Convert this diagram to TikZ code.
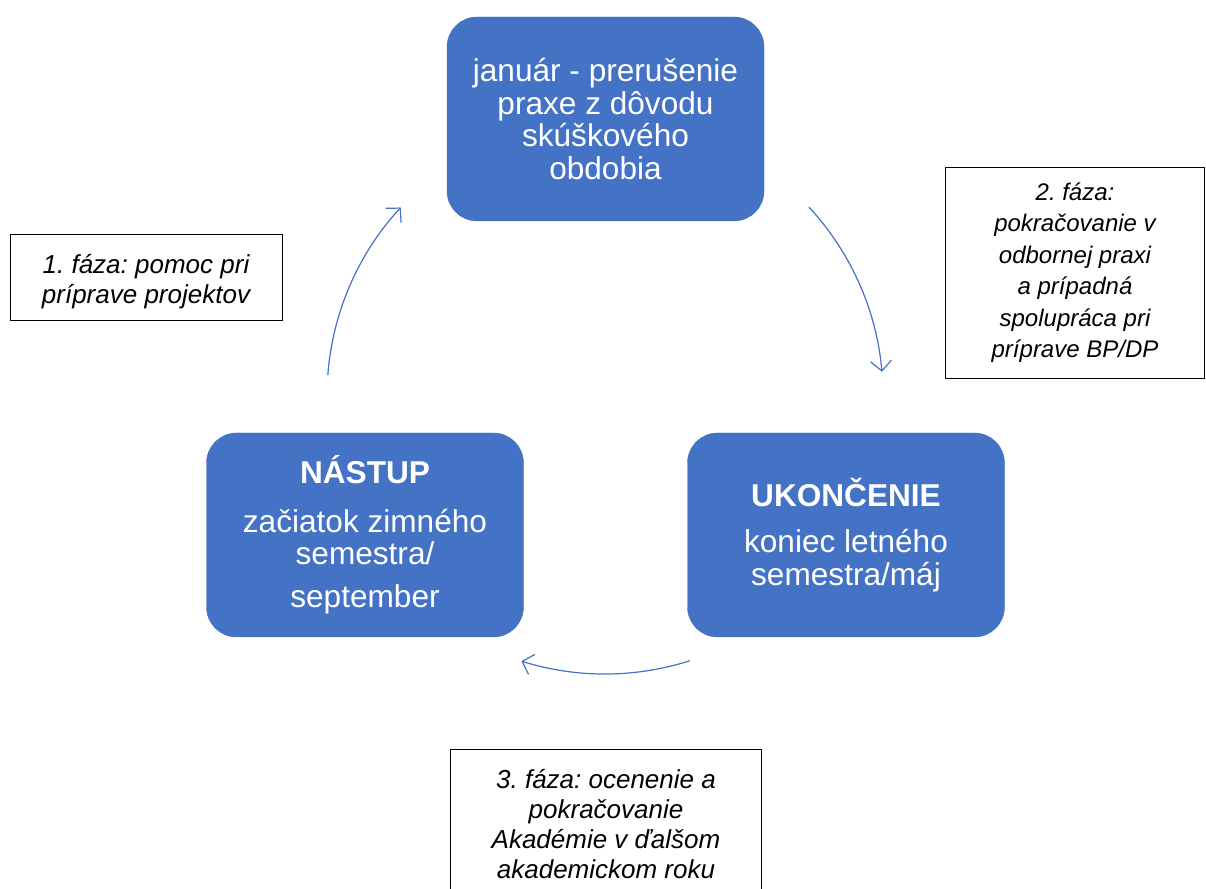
\documentclass[tikz,border=0pt]{standalone}
\usepackage{fontspec}
\setmainfont{Liberation Sans}
\usetikzlibrary{arrows.meta}
\definecolor{cycleblue}{HTML}{4472C4}
\frenchspacing
\tikzset{
	stage/.style={draw=cycleblue, fill=cycleblue, text=white, rounded corners=30pt, minimum width=317pt, minimum height=204pt, inner sep=0pt, align=center, font=\fontsize{31.6}{32.5}\selectfont},
	phase/.style={draw=black, line width=0.9pt, inner sep=0pt, align=center, font=\fontsize{26}{30}\selectfont\itshape},
	cyclearrow/.style={cycleblue, line width=1.2pt, -{Straight Barb[length=10pt,width=21pt]}}
}

\begin{document}
\begin{tikzpicture}[x=1pt,y=1pt]
		\clip (0,0) rectangle (1206,888);
		\coordinate (m) at (605,492);
		\node[stage] (januar) at (605.5,769) {január - prerušenie\\praxe z dôvodu\\skúškového\\obdobia};
		\node[stage] (nastup) at (365,353) {\textbf{NÁSTUP}\\[16pt]začiatok zimného\\semestra/\\[10pt]september};
		\node[stage] (ukoncenie) at (846,353) {\textbf{UKONČENIE}\\[14pt]koniec letného\\semestra/máj};
		\node[phase, minimum width=272pt, minimum height=86pt] (faza1) at (146,611) {\rule{0pt}{28pt}1. fáza: pomoc pri\\príprave projektov};
		\node[phase, minimum width=259pt, minimum height=211pt, font=\fontsize{24}{31.5}\selectfont\itshape] (faza2) at (1075,615.5) {2. fáza:\\pokračovanie v\\odbornej praxi\\a prípadná\\spolupráca pri\\príprave BP/DP};
		\node[phase, minimum width=311pt, minimum height=150pt] (faza3) at (606,64) {3. fáza: ocenenie a\\pokračovanie\\Akadémie v ďalšom\\akademickom roku};
		\draw[cyclearrow] ([shift={(175.7:278)}]m) arc[start angle=175.7, end angle=137.3, radius=278];
		\draw[cyclearrow] ([shift={(42.8:278)}]m) arc[start angle=42.8, end angle=5, radius=278];
		\draw[cyclearrow] ([shift={(-72.2:278)}]m) arc[start angle=-72.2, end angle=-107.5, radius=278];
	\end{tikzpicture}
\end{document}
